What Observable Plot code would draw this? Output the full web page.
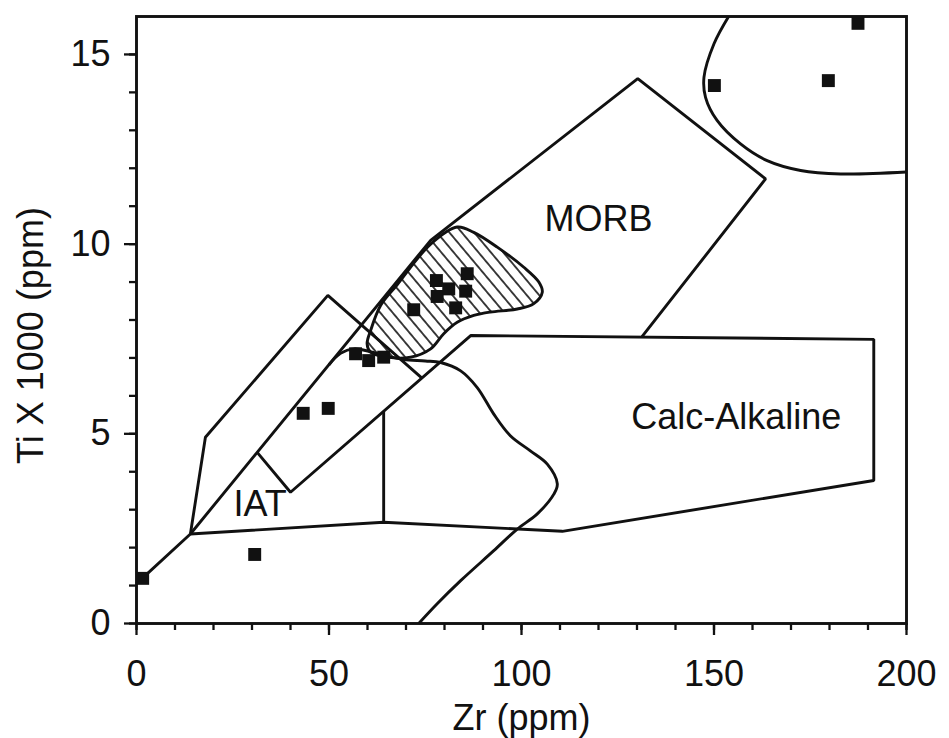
<!DOCTYPE html>
<html>
<head>
<meta charset="utf-8">
<script src="https://cdn.jsdelivr.net/npm/d3@7"></script>
<script src="https://cdn.jsdelivr.net/npm/@observablehq/plot@0.6"></script>
<style>
  html, body { margin: 0; padding: 0; background: #fff; }
</style>
</head>
<body>
<div id="chart"></div>
<script>
// ---------- data (Zr ppm on x, Ti x 1000 ppm on y) ----------
const sampleZr = [1.6, 30.7, 43.3, 49.8, 56.9, 60.3, 64.2, 72.0, 77.9, 78.1, 81.1, 85.9, 85.5, 82.9, 150.1, 179.7, 187.4];
const sampleTi = [1.19, 1.82, 5.54, 5.67, 7.11, 6.93, 7.02, 8.27, 9.04, 8.62, 8.82, 9.22, 8.76, 8.32, 14.18, 14.31, 15.82];

// MORB field outline
const morbZr = [0, 14.0, 76.4, 130.2, 163.4, 131.3];
const morbTi = [1.05, 2.36, 10.10, 14.36, 11.72, 7.56];

// Calc-alkaline field + lower boundary + left parallelogram edge
const calcZr = [14.0, 64.2, 110.6, 191.5, 191.5, 86.8, 40.0, 31.35];
const calcTi = [2.36, 2.67, 2.43, 3.77, 7.49, 7.59, 3.46, 4.51];
const dividerZr = [64.2, 64.2];
const dividerTi = [2.67, 5.60];

// IAT field
const iatZr = [14.0, 17.9, 49.7, 74.0];
const iatTi = [2.36, 4.91, 8.65, 6.48];

// curved boundary in the middle
const curveZr = [50.0, 53.0, 56.5, 60.5, 65.0, 69.4, 75.0, 79.0, 84.2, 88.5, 92.8, 97.1, 102.3, 106.7, 109.3, 108.4, 104.1, 98.9, 92.8, 84.2, 78.1, 73.3];
const curveTi = [6.82, 7.12, 7.24, 7.17, 7.05, 6.96, 6.92, 6.88, 6.66, 6.22, 5.52, 4.95, 4.55, 4.20, 3.68, 3.41, 2.89, 2.49, 1.92, 1.13, 0.52, 0];

// hatched field
const blobZr = [83.3, 76.4, 67.7, 63.4, 60.8, 59.9, 60.8, 65.1, 71.2, 76.4, 79.8, 83.3, 87.6, 91.9, 98.9, 103.2, 105.4, 104.5, 100.6, 93.7, 87.6];
const blobTi = [10.45, 10.0, 8.93, 8.38, 7.72, 7.37, 7.15, 7.02, 7.02, 7.24, 7.64, 7.94, 8.12, 8.21, 8.29, 8.43, 8.73, 9.00, 9.39, 9.92, 10.31];

// upper-right curved field
const upperZr = [153.8, 150.0, 147.4, 147.8, 150.8, 156.9, 163.8, 172.5, 182.9, 200];
const upperTi = [16.0, 15.28, 14.40, 13.87, 13.26, 12.64, 12.20, 11.94, 11.85, 11.90];

// field labels
const fieldNames = ["MORB", "Calc-Alkaline", "IAT"];
const fieldZr = [120.0, 155.8, 32.1];
const fieldTi = [10.66, 5.44, 3.15];

// ticks and titles
const majorZr = [0, 50, 100, 150, 200];
const minorZr = d3.range(0, 201, 10);
const majorTi = [0, 5, 10, 15];
const minorTi = d3.range(0, 16, 1);
const xTitle = "Zr (ppm)";
const yTitle = "Ti X 1000 (ppm)";

// ---------- chart ----------
const ink = "#111111";
const font = "'Liberation Sans', Arial, Helvetica, sans-serif";
const pts = (xs, ys) => xs.map((x, i) => ({x, y: ys[i]}));
const ls = {x: "x", y: "y", stroke: ink, strokeWidth: 2.9, strokeLinejoin: "miter", strokeLinecap: "butt"};

const chart = Plot.plot({
  width: 949,
  height: 738,
  marginLeft: 136,
  marginRight: 43,
  marginTop: 16,
  marginBottom: 115,
  x: {domain: [0, 200]},
  y: {domain: [0, 16]},
  style: {fontFamily: font, fontSize: "36px", color: ink, background: "#fff", overflow: "visible"},
  marks: [
    Plot.line(pts(blobZr, blobTi), {...ls, curve: "catmull-rom-closed", fill: "url(#hatch)"}),
    Plot.line(pts(morbZr, morbTi), ls),
    Plot.line(pts(calcZr, calcTi), ls),
    Plot.line(pts(dividerZr, dividerTi), ls),
    Plot.line(pts(iatZr, iatTi), ls),
    Plot.line(pts(curveZr, curveTi), {...ls, curve: "catmull-rom"}),
    Plot.line(pts(upperZr, upperTi), {...ls, curve: "catmull-rom"}),
    Plot.dot(pts(sampleZr, sampleTi), {x: "x", y: "y", symbol: "square", r: 7.3, fill: ink}),
    Plot.text(fieldNames, {x: (d, i) => fieldZr[i], y: (d, i) => fieldTi[i], text: d => d, fontSize: 36, fill: ink, lineAnchor: "middle", textAnchor: "middle"}),
    Plot.axisX({ticks: minorZr, tickSize: 7, tickFormat: () => "", strokeWidth: 2.3, label: null}),
    Plot.axisX({ticks: majorZr, tickSize: 12, tickPadding: 25, tickFormat: d => String(d), fontSize: 36, strokeWidth: 2.3, label: null}),
    Plot.axisY({ticks: minorTi, tickSize: 7, tickFormat: () => "", strokeWidth: 2.3, label: null}),
    Plot.axisY({ticks: majorTi, tickSize: 12, tickPadding: 14, tickFormat: d => String(d), fontSize: 36, strokeWidth: 2.3, label: null}),
    Plot.frame({stroke: ink, strokeWidth: 2.9}),
    Plot.text([xTitle], {frameAnchor: "bottom", text: d => d, dy: 94.5, fontSize: 36, lineAnchor: "middle", textAnchor: "middle", fill: ink}),
    Plot.text([yTitle], {frameAnchor: "left", text: d => d, rotate: -90, dx: -105.5, dy: 15.5, fontSize: 36, lineAnchor: "middle", textAnchor: "middle", fill: ink})
  ]
});

// hatch pattern definition
const svgEl = chart.tagName.toLowerCase() === "svg" ? chart : chart.querySelector("svg");
const ns = "http://www.w3.org/2000/svg";
const defs = document.createElementNS(ns, "defs");
const pat = document.createElementNS(ns, "pattern");
pat.setAttribute("id", "hatch");
pat.setAttribute("patternUnits", "userSpaceOnUse");
pat.setAttribute("width", "9.5");
pat.setAttribute("height", "9.5");
pat.setAttribute("patternTransform", "rotate(-40)");
const bg = document.createElementNS(ns, "rect");
bg.setAttribute("width", "9.5");
bg.setAttribute("height", "9.5");
bg.setAttribute("fill", "#fff");
const hl = document.createElementNS(ns, "line");
hl.setAttribute("x1", "4.75"); hl.setAttribute("y1", "-1");
hl.setAttribute("x2", "4.75"); hl.setAttribute("y2", "10.5");
hl.setAttribute("stroke", ink);
hl.setAttribute("stroke-width", "1.6");
pat.appendChild(bg);
pat.appendChild(hl);
defs.appendChild(pat);
svgEl.insertBefore(defs, svgEl.firstChild);

document.getElementById("chart").appendChild(chart);
</script>
</body>
</html>
